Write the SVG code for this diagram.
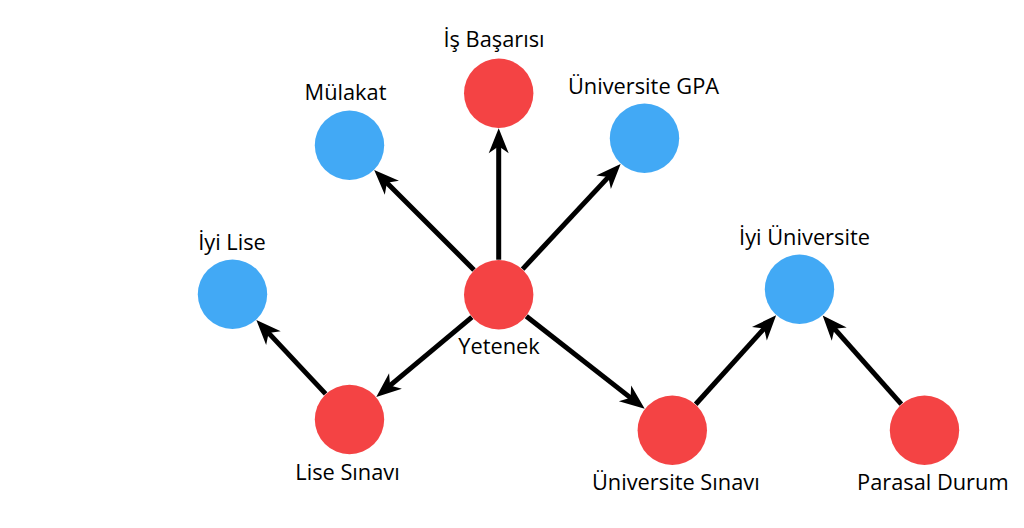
<svg xmlns="http://www.w3.org/2000/svg" width="1024" height="528" viewBox="0 0 1024 528">
<style>
.red{fill:#f44344}
.blue{fill:#42a9f5}
.lbl{font-family:"Open Sans","Noto Sans","Liberation Sans",sans-serif;font-size:21.8px;fill:#000;text-anchor:middle}
.edge{stroke:#000;stroke-width:5;fill:none;marker-end:url(#ah)}
</style>
<defs>
<marker id="ah" markerUnits="userSpaceOnUse" viewBox="-12 -12 30 24" refX="0" refY="0" markerWidth="30" markerHeight="24" orient="auto" overflow="visible">
<path d="M15,0 L-10,-10 L-3,0 L-10,10 Z" fill="#000"/>
</marker>
</defs>
<rect width="1024" height="528" fill="#fff"/>
<g id="connectors">
<line class="edge" x1="498.7" y1="259.7" x2="498.7" y2="143.3"/>
<line class="edge" x1="474.0" y1="269.9" x2="384.8" y2="180.7"/>
<line class="edge" x1="522.6" y1="269.1" x2="610.4" y2="174.9"/>
<line class="edge" x1="471.9" y1="317.2" x2="387.8" y2="387.4"/>
<line class="edge" x1="526.3" y1="316.2" x2="632.9" y2="399.6"/>
<line class="edge" x1="325.6" y1="393.9" x2="266.6" y2="330.9"/>
<line class="edge" x1="695.7" y1="404.3" x2="766.1" y2="326.3"/>
<line class="edge" x1="901.3" y1="404.1" x2="832.6" y2="326.6"/>
</g>
<g id="is-basarisi"><circle class="red" cx="498.7" cy="93.3" r="34.7"/><text class="lbl" x="494" y="47">İş Başarısı</text></g>
<g id="mulakat"><circle class="blue" cx="349.5" cy="145.3" r="34.7"/><text class="lbl" x="345.5" y="99.5">Mülakat</text></g>
<g id="universite-gpa"><circle class="blue" cx="644.5" cy="138.3" r="34.7"/><text class="lbl" x="643.5" y="93.5">Üniversite GPA</text></g>
<g id="iyi-lise"><circle class="blue" cx="232.5" cy="294.3" r="34.7"/><text class="lbl" x="232" y="249.5">İyi Lise</text></g>
<g id="yetenek"><circle class="red" cx="498.7" cy="294.7" r="34.7"/><text class="lbl" x="499" y="353.5">Yetenek</text></g>
<g id="iyi-universite"><circle class="blue" cx="799.5" cy="289.2" r="34.7"/><text class="lbl" x="804.5" y="244.5">İyi Üniversite</text></g>
<g id="lise-sinavi"><circle class="red" cx="349.5" cy="419.5" r="34.7"/><text class="lbl" x="347.5" y="480">Lise Sınavı</text></g>
<g id="universite-sinavi"><circle class="red" cx="672.3" cy="430.3" r="34.7"/><text class="lbl" x="675.8" y="489.5">Üniversite Sınavı</text></g>
<g id="parasal-durum"><circle class="red" cx="924.5" cy="430.3" r="34.7"/><text class="lbl" x="932.8" y="489.5">Parasal Durum</text></g>
</svg>
